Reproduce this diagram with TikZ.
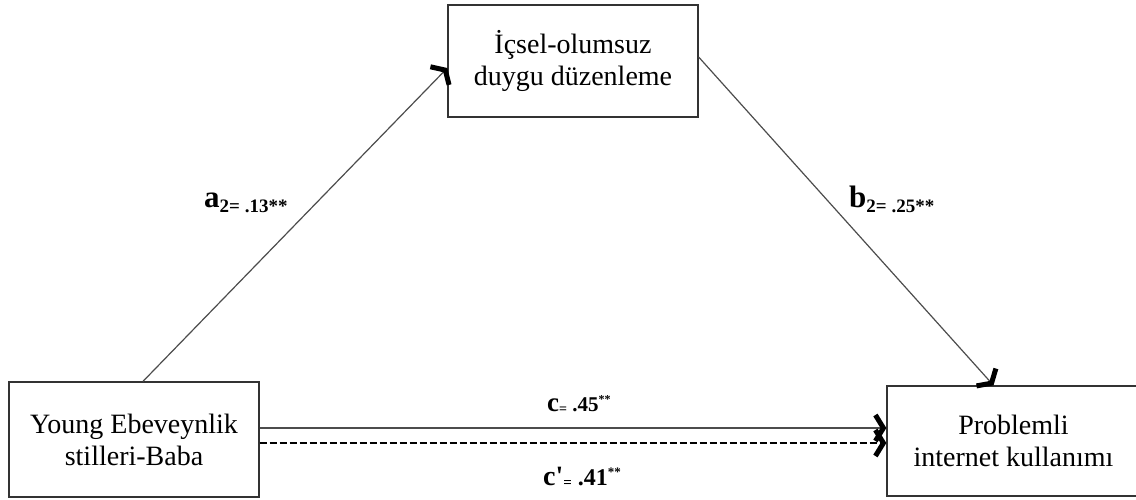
\documentclass[tikz,border=0pt]{standalone}
\usepackage{fontspec}
\setmainfont{Liberation Serif}
\usetikzlibrary{arrows.meta,positioning}
\tikzset{
  varbox/.style={draw=black!80, line width=1.3pt, align=center, minimum width=250pt, minimum height=112pt, font=\fontsize{28}{32}\selectfont},
  chevron/.tip={Straight Barb[length=8pt, width=26pt, line width=5pt, color=black]},
  effect/.style={-chevron, draw=black!70, line width=1.2pt},
  direct/.style={-chevron, draw=black!70, line width=1.3pt},
  indirect/.style={-chevron, draw=black, line width=2pt, dash pattern=on 7pt off 3pt},
  coef/.style={anchor=base west, inner sep=0pt, font=\bfseries}
}
\newcommand{\bigc}[1]{{\fontsize{31}{32}\selectfont #1}}
\newcommand{\subc}[1]{{\fontsize{19}{20}\selectfont #1}}
\begin{document}
\begin{tikzpicture}[x=1pt, y=-1pt]
  \useasboundingbox (0,0) rectangle (1136,499);
  % variables
  \node[varbox] (ice) at (573,61) {İçsel-olumsuz\\duygu düzenleme};
  \node[varbox, minimum height=115pt] (yeb) at (134,439.5) {Young Ebeveynlik\\stilleri-Baba};
  \node[varbox, minimum width=253pt, minimum height=110pt] (pik) at (1013.5,441) {Problemli\\internet kullanımı};

  % paths
  \draw[effect] ([xshift=9pt]yeb.north) -- ([yshift=-7pt]ice.west);
  \draw[effect] ([yshift=4pt]ice.east) -- ([xshift=-20pt]pik.north);
  \draw[direct] ([yshift=11.5pt]yeb.east) -- ([yshift=13pt]pik.west);
  \draw[indirect] ([yshift=-3.5pt]yeb.east) -- ([yshift=-2pt]pik.west);

  % coefficients
  \node[coef] (la) at (204,207) {\bigc{a}\raisebox{-5pt}{\subc{2= .13**}}};
  \node[coef] (lb) at (849,207) {\bigc{b}\raisebox{-5pt}{\subc{2= .25**}}};
  \node[coef] (lc) at (547,411) {{\fontsize{27}{28}\selectfont c}\raisebox{-2pt}{\fontsize{14}{15}\selectfont =}{\fontsize{21}{23}\selectfont\ .45}\raisebox{8pt}{\fontsize{12}{12}\selectfont **}};
  \node[coef] (lcp) at (543,485) {{\fontsize{28}{30}\selectfont c\textquotesingle}\raisebox{-2pt}{\fontsize{15}{16}\selectfont =}{\fontsize{24}{26}\selectfont\ .41}\raisebox{9pt}{\fontsize{13}{13}\selectfont **}};
\end{tikzpicture}
\end{document}
